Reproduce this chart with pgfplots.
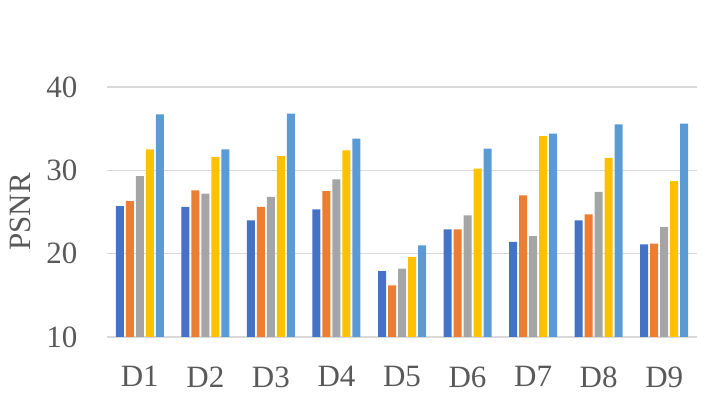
\documentclass[border=0pt]{standalone}
\usepackage{pgfplots}
\pgfplotsset{compat=1.18}
\usepackage{fontspec}
\setmainfont{Liberation Serif}
\definecolor{cA}{HTML}{4472C4}
\definecolor{cB}{HTML}{ED7D31}
\definecolor{cC}{HTML}{A5A5A5}
\definecolor{cD}{HTML}{FFC000}
\definecolor{cE}{HTML}{5B9BD5}
\definecolor{txt}{HTML}{595959}
\definecolor{grd}{HTML}{D9D9D9}
\begin{document}
\begin{tikzpicture}
\path[use as bounding box] (0,0) rectangle (719bp,408bp);
\begin{axis}[
  at={(107bp,71bp)}, anchor=south west,
  scale only axis, width=590bp, height=250bp,
  xmin=-0.5, xmax=8.5, ymin=10, ymax=40,
  ybar=2bp, bar width=8bp,
  xtick=data, xticklabels={D1,D2,D3,D4,D5,D6,D7,D8,D9},
  ytick={10,20,30,40},
  ymajorgrids, grid style={grd, line width=1.3bp},
  axis line style={draw=none},
  major tick length=0pt,
  tick label style={font=\fontsize{31bp}{36bp}\selectfont, text=txt},
  /pgf/number format/assume math mode=true,
  yticklabel style={xshift=-26bp},
  xticklabel style={yshift=-26bp},
  ylabel={PSNR},
  every axis y label/.style={at={(axis description cs:0,0.5)}, xshift=-87bp, rotate=90, anchor=center, font=\fontsize{31bp}{36bp}\selectfont, text=txt},
  clip=true,
]
\draw[grd, line width=1.3bp] (axis cs:-0.5,10) -- (axis cs:8.5,10);
\addplot[fill=cA, draw=none] coordinates {(0,25.7) (1,25.6) (2,24.0) (3,25.3) (4,17.9) (5,22.9) (6,21.4) (7,24.0) (8,21.1)};
\addplot[fill=cB, draw=none] coordinates {(0,26.3) (1,27.6) (2,25.6) (3,27.5) (4,16.2) (5,22.9) (6,27.0) (7,24.7) (8,21.2)};
\addplot[fill=cC, draw=none] coordinates {(0,29.3) (1,27.2) (2,26.8) (3,28.9) (4,18.2) (5,24.6) (6,22.1) (7,27.4) (8,23.2)};
\addplot[fill=cD, draw=none] coordinates {(0,32.5) (1,31.6) (2,31.7) (3,32.4) (4,19.6) (5,30.2) (6,34.1) (7,31.5) (8,28.7)};
\addplot[fill=cE, draw=none] coordinates {(0,36.7) (1,32.5) (2,36.8) (3,33.8) (4,21.0) (5,32.6) (6,34.4) (7,35.5) (8,35.6)};
\end{axis}
\end{tikzpicture}
\end{document}
